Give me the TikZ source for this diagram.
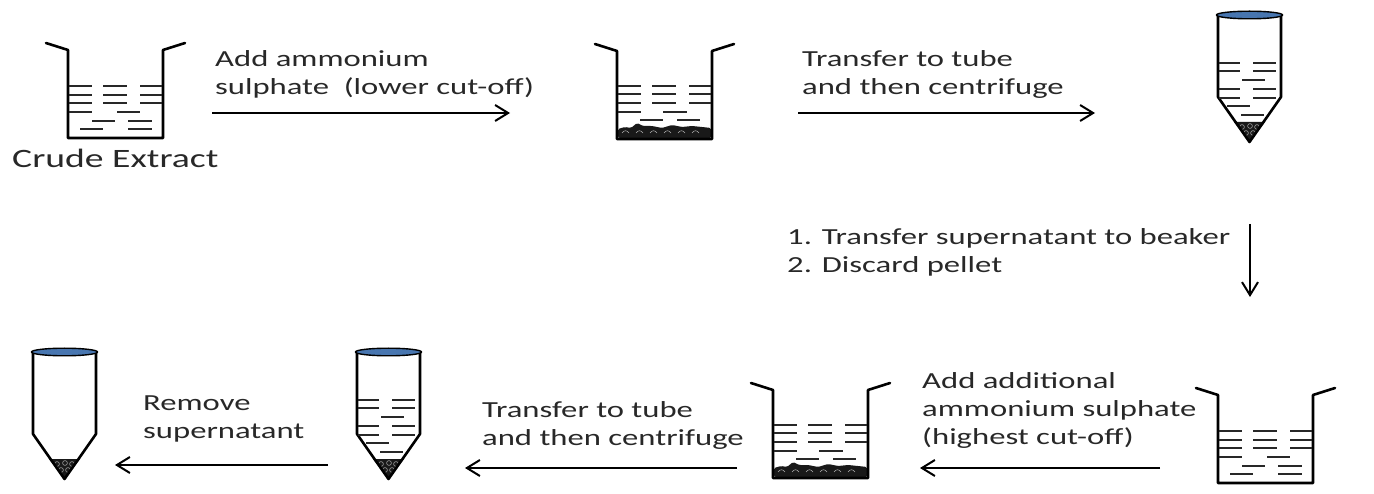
\documentclass[tikz,border=0pt]{standalone}
\usepackage{fontspec}
\setmainfont[FakeStretch=1.42]{Carlito}
\usetikzlibrary{arrows.meta}
\definecolor{capblue}{RGB}{72,118,176}
\definecolor{ink}{RGB}{40,40,40}
\tikzset{
  wall/.style={line width=2.6pt, line join=round, line cap=round},
  liq/.style={line width=1.9pt, draw=ink},
  pellet/.style={fill=black!90, rounded corners=1.5pt},
  grain/.style={draw=white!70!black, line width=0.5pt},
  flow/.style={line width=2pt, draw=black,
    -{Straight Barb[length=13pt,width=16pt,line width=2pt]}},
  lbl/.style={font=\fontsize{23}{28}\selectfont, text=ink, align=left,
    inner sep=0pt, anchor=base west},
  % open beaker with pouring lips
  beakerwall/.pic={
    \draw[wall] (-22,-7) -- (0,0) -- (0,88) -- (95,88) -- (95,0) -- (117,-7);
  },
  % beaker of clear solution
  beaker/.pic={
    \pic {beakerwall};
    \foreach \r in {36,45,53}{
      \draw[liq] (1,\r) -- (24,\r) (35,\r) -- (59,\r) (72,\r) -- (94,\r);
    }
    \draw[liq] (1,62) -- (24,62) (49,62) -- (72,62);
    \draw[liq] (24,71) -- (47,71) (60,71) -- (84,71);
    \draw[liq] (12,79) -- (35,79) (60,79) -- (84,79);
  },
  % beaker with precipitate settled on the bottom
  beakerpellet/.pic={
    \fill[pellet] (1,87) -- (1,78) -- (8,76) -- (14,77) -- (20,72) -- (26,75)
      -- (35,75) -- (45,77) -- (55,74) -- (65,76) -- (75,75) -- (85,76)
      -- (94,77) -- (94,87) -- cycle;
    \foreach \x in {5,19,...,80}{
      \draw[grain] (\x,82) .. controls (\x+2,79) and (\x+5,79) .. (\x+7,82);
    }
    \pic {beakerwall};
    \foreach \r in {35,43,52}{
      \draw[liq] (1,\r) -- (24,\r) (35,\r) -- (59,\r) (72,\r) -- (94,\r);
    }
    \draw[liq] (1,61) -- (24,61) (46,61) -- (70,61);
    \draw[liq] (23,69) -- (46,69) (60,69) -- (83,69);
  },
  % conical centrifuge tube with its pellet and blue cap
  tubebody/.pic={
    \fill[black!90] (16,107) -- (47,107) -- (31.5,127) -- cycle;
    \foreach \p in {(24,112),(32,111),(39,112),(28,118),(35,118)}{
      \draw[grain] \p circle [radius=2.4];
    }
    \draw[wall] (0,0) -- (0,82) -- (31.5,127) -- (63,82) -- (63,0);
    \draw[line width=1.4pt, fill=capblue] (31.5,0) ellipse [x radius=33, y radius=3.8];
  },
  % tube still holding the supernatant
  tube/.pic={
    \pic {tubebody};
    \foreach \r in {48,56,74,83}{
      \draw[liq] (1,\r) -- (22,\r) (35,\r) -- (58,\r);
    }
    \draw[liq] (24,65) -- (47,65);
    \draw[liq] (9,91) -- (32,91);
    \draw[liq] (23,100) -- (46,100);
  },
}
\begin{document}
\begin{tikzpicture}[x=1pt,y=-1pt]
\useasboundingbox (0,0) rectangle (1374,494);

% ---- top row ----
\pic (crude) at (68,50) {beaker};
\node[lbl, font=\fontsize{26.5}{30}\selectfont] (crudelbl) at (12,168) {Crude Extract};
\pic (ppt1) at (617,51) {beakerpellet};
\pic (spin1) at (1218,15) {tube};

\coordinate (a1s) at (212,113);  \coordinate (a1e) at (510,113);
\coordinate (a2s) at (798,113);  \coordinate (a2e) at (1095,113);
\coordinate (a3s) at (1250,224); \coordinate (a3e) at (1250,297);
\draw[flow] (a1s) -- (a1e);
\draw[flow] (a2s) -- (a2e);
\draw[flow] (a3s) -- (a3e);

% multi-line labels are placed by the baseline of their last line
\node[lbl] (t1) at (215,95) {Add ammonium\\sulphate~~(lower cut-off)};
\node[lbl] (t2) at (802,95) {Transfer to tube\\and then centrifuge};
\node[lbl] (t3) at (787,273) {1. Transfer supernatant to beaker\\2. Discard pellet};

% ---- bottom row ----
\pic (super) at (1218,395) {beaker};
\pic (ppt2) at (773,390) {beakerpellet};
\pic (spin2) at (357,352) {tube};
\pic (final) at (33,352) {tubebody};

\coordinate (a4s) at (1160,468); \coordinate (a4e) at (920,468);
\coordinate (a5s) at (737,468);  \coordinate (a5e) at (465,468);
\coordinate (a6s) at (328,465);  \coordinate (a6e) at (115,465);
\draw[flow] (a4s) -- (a4e);
\draw[flow] (a5s) -- (a5e);
\draw[flow] (a6s) -- (a6e);

\node[lbl] (t4) at (922,444) {Add additional\\ammonium sulphate\\(highest cut-off)};
\node[lbl] (t5) at (482,445) {Transfer to tube\\and then centrifuge};
\node[lbl] (t6) at (143,438) {Remove\\supernatant};
\end{tikzpicture}
\end{document}
